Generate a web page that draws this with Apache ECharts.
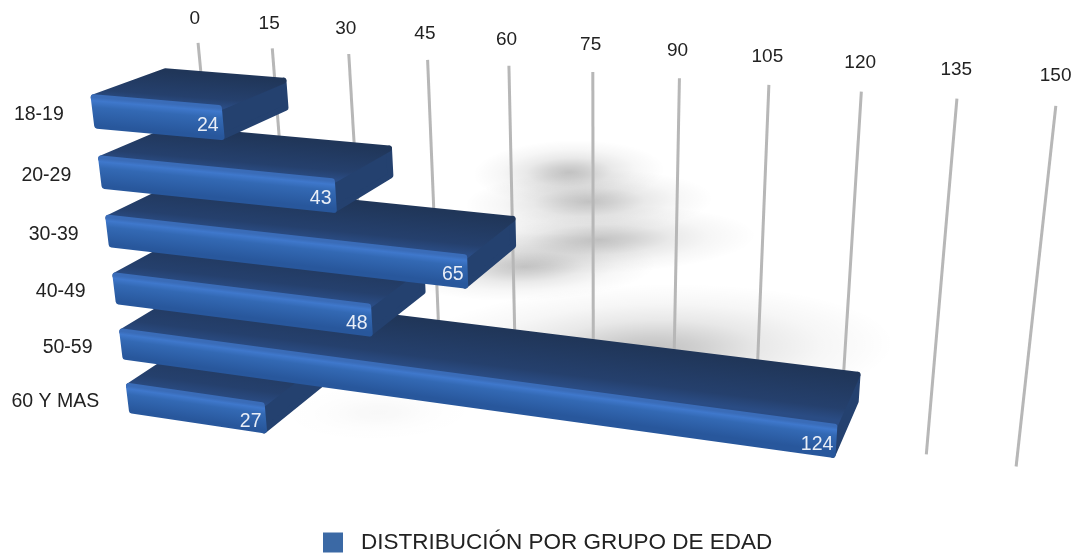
<!DOCTYPE html>
<html>
<head>
<meta charset="utf-8">
<style>html,body{margin:0;padding:0;background:#fff}#c{width:1078px;height:555px}</style>
<script src="https://cdn.jsdelivr.net/npm/echarts@6/dist/echarts.min.js"></script>
</head>
<body>
<div id="c"></div>
<script>
const seriesName = 'DISTRIBUCIÓN POR GRUPO DE EDAD';
const categories = ['18-19', '20-29', '30-39', '40-49', '50-59', '60 Y MAS'];
const values = [24, 43, 65, 48, 124, 27];
const tickLabels = [0, 15, 30, 45, 60, 75, 90, 105, 120, 135, 150];

const FONT = '"Liberation Sans", Arial, sans-serif';
const GRID_W = 1000, GRID_H = 540, X_MAX = 150;

// Camera: (value, row, depth) -> screen, homogeneous
const CAM = {
  x: [87.5, 5.24, 9, 90],
  y: [95, 0.353, 63.7, -22.5],
  w: [1, -0.0011, 0.015, 0.078]
};
const BAR_H = 0.56, WALL_Z = 1.5, WALL_TOP = -0.21, WALL_BOTTOM = 0.83, LABEL_F = -0.63, WALL_SCALE = 0.995;

function cam(v, r, z) {
  const d = CAM.w[0] + CAM.w[1] * v + CAM.w[2] * r + CAM.w[3] * z;
  return [
    (CAM.x[0] + CAM.x[1] * v + CAM.x[2] * r + CAM.x[3] * z) / d,
    (CAM.y[0] + CAM.y[1] * v + CAM.y[2] * r + CAM.y[3] * z) / d
  ];
}
// Goes through the library's axes, then the camera
function project(api, value, rowIndex, f, z) {
  const c = api.coord([value, rowIndex]);
  const band = GRID_H / categories.length;
  return cam(c[0] * X_MAX / GRID_W, c[1] / band - 0.5 + f, z);
}
function globalGrad(p0, p1, q, stops) {
  const ex = p1[0] - p0[0], ey = p1[1] - p0[1], L = Math.hypot(ex, ey) || 1;
  const nx = -ey / L, ny = ex / L;
  const t = (q[0] - p0[0]) * nx + (q[1] - p0[1]) * ny;
  return { type: 'linear', global: true, x: p0[0], y: p0[1], x2: p0[0] + nx * t, y2: p0[1] + ny * t, colorStops: stops };
}
const stops = a => a.map(s => ({ offset: s[0], color: s[1] }));
const FRONT = stops([[0, '#3a6cb8'], [0.12, '#3f78cc'], [0.35, '#3369b4'], [1, '#28579c']]);
const TOP = stops([[0, '#203659'], [0.75, '#25406d'], [1, '#2a4c84']]);
const SIDE = '#24416f';
const R = 3, RV = 0.55, RF = 0.05, RZ = 0.035;

function renderBar(params, api) {
  const row = api.value(1), v = api.value(0);
  const a = project(api, RV, row, RF, RZ), b = project(api, v - RV, row, RF, RZ);
  const c = project(api, v - RV, row, BAR_H - RF, RZ), d = project(api, RV, row, BAR_H - RF, RZ);
  const e = project(api, RV, row, RF, 1 - RZ), f = project(api, v - RV, row, RF, 1 - RZ), g = project(api, v - RV, row, BAR_H - RF, 1 - RZ);
  const lab = project(api, v - 0.4, row, 0.31, 0);
  const topFill = globalGrad(e, f, a, TOP);
  const frontFill = globalGrad(a, b, d, FRONT);
  const face = (pts, fill) => ({
    type: 'polygon', shape: { points: pts },
    style: { fill: fill, stroke: fill, lineWidth: R * 2, lineJoin: 'round' }
  });
  return {
    type: 'group',
    children: [
      face([b, f, g, c], SIDE),
      face([a, e, f, b], topFill),
      face([a, b, c, d], frontFill),
      { type: 'text', x: lab[0], y: lab[1],
        style: { text: String(v), fill: '#e9eef7', fontSize: 19.5, fontFamily: FONT, align: 'right', verticalAlign: 'middle' } }
    ]
  };
}
function renderWall(params, api) {
  const v = api.value(0), wv = v * WALL_SCALE;
  const p = project(api, wv, 0, WALL_TOP, WALL_Z);
  const q = project(api, wv, categories.length - 1, WALL_BOTTOM, WALL_Z);
  const t = project(api, wv, 0, LABEL_F, WALL_Z);
  return {
    type: 'group',
    children: [
      { type: 'line', shape: { x1: p[0], y1: p[1], x2: q[0], y2: q[1] }, style: { stroke: '#b7b7b7', lineWidth: 3 } },
      { type: 'text', x: t[0] - 1 - 0.015 * v, y: t[1] - 0.015 * v,
        style: { text: String(v), fill: '#222', fontSize: 19, fontFamily: FONT, align: 'center', verticalAlign: 'middle' } }
    ]
  };
}
function renderCat(params, api) {
  const row = api.value(1);
  const p = project(api, 0, row, 0.3, 0);
  return { type: 'text', x: p[0] - 26, y: p[1] + 1,
    style: { text: categories[row], fill: '#222', fontSize: 19.5, fontFamily: FONT, align: 'right', verticalAlign: 'middle' } };
}
// Soft cast shadows on the back wall
const SHADOW = {
  centre: [70.3, 73.9, 75.7, 61.8, 84.9, 31.6],
  row: [1.52, 2.01, 2.66, 3.3, 4.57, 6.5],
  ry: [32, 32, 34, 34, 66, 30],
  strength: [1, 1, 1, 0.95, 1.05, 0.12]
};
function renderShadow(params, api) {
  const i = api.value(1), val = api.value(0);
  const p = cam(SHADOW.centre[i], SHADOW.row[i], WALL_Z);
  const rx = 60 + 1.5 * val, ry = SHADOW.ry[i], s = SHADOW.strength[i];
  const al = k => 'rgba(0,0,0,' + (k * s).toFixed(3) + ')';
  return {
    type: 'circle', x: p[0], y: p[1], scaleX: rx / 100, scaleY: ry / 100, rotation: 0.03,
    shape: { cx: 0, cy: 0, r: 100 },
    style: { fill: { type: 'radial', x: 0.5, y: 0.5, r: 0.5,
      colorStops: [{ offset: 0, color: al(0.24) }, { offset: 0.2, color: al(0.18) }, { offset: 0.45, color: al(0.085) }, { offset: 0.7, color: al(0.035) }, { offset: 1, color: al(0) }] } }
  };
}
const rowsBackToFront = values.map((v, i) => [v, i]).reverse();

const chart = echarts.init(document.getElementById('c'), null, { renderer: 'canvas' });
chart.setOption({
  animation: false,
  backgroundColor: '#fff',
  grid: { left: 0, top: 0, width: GRID_W, height: GRID_H, containLabel: false, show: false, outerBoundsMode: 'none' },
  xAxis: { type: 'value', min: 0, max: X_MAX, interval: 15, show: false },
  yAxis: { type: 'category', data: categories, inverse: true, show: false },
  legend: {
    left: 318, top: 526, itemWidth: 20, itemHeight: 20, icon: 'rect',
    data: [seriesName],
    selectedMode: false,
    textStyle: { fontSize: 22.5, color: '#222', fontFamily: FONT, padding: [0, 0, 0, 13] }
  },
  series: [
    { type: 'custom', name: 'sombra', z: 1, silent: true, renderItem: renderShadow, encode: { x: 0, y: 1 },
      data: rowsBackToFront },
    { type: 'custom', name: 'eje', z: 2, silent: true, renderItem: renderWall, encode: { x: 0 },
      data: tickLabels.map(t => [t, 0]) },
    { type: 'custom', name: 'categorias', z: 2, silent: true, renderItem: renderCat, encode: { x: 0, y: 1 },
      data: categories.map((c, i) => [0, i]) },
    { type: 'custom', name: seriesName, z: 3, silent: true, renderItem: renderBar, encode: { x: 0, y: 1 },
      itemStyle: { color: '#3b69a5' }, data: rowsBackToFront }
  ]
});
</script>
</body>
</html>
